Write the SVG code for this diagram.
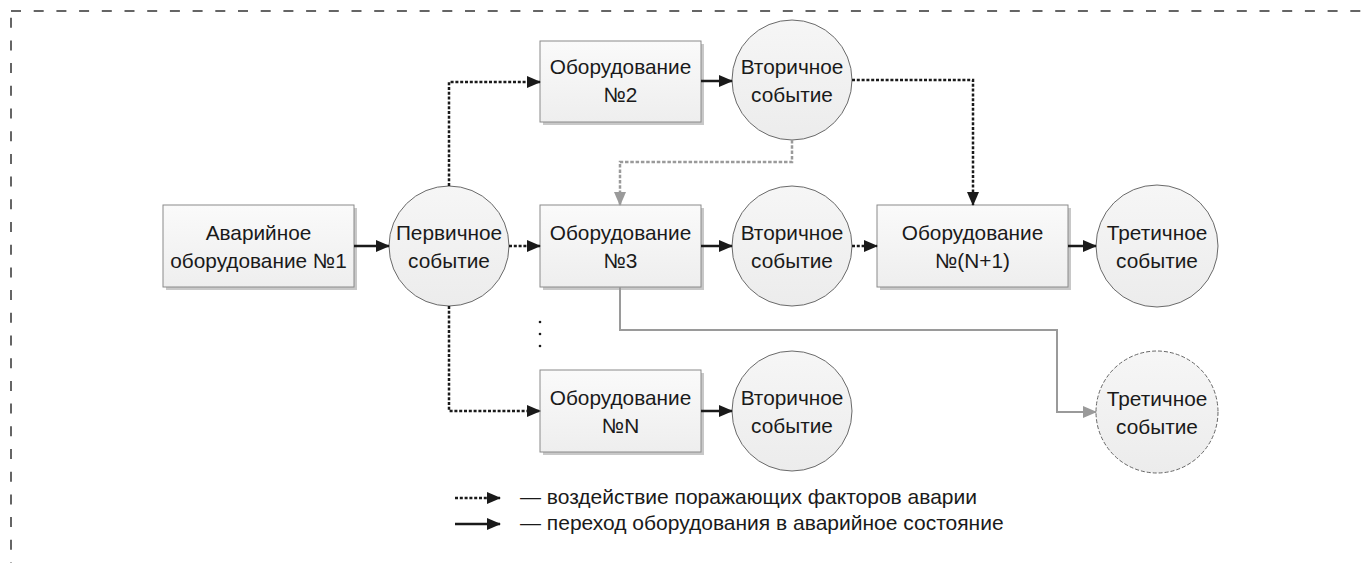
<svg xmlns="http://www.w3.org/2000/svg" width="1363" height="563" viewBox="0 0 1363 563">
<style>
.frame{fill:none;stroke:#333;stroke-width:1.5;stroke-dasharray:10 12.7}
.box{fill:url(#gBox);stroke:#8a8a8a;stroke-width:1}
.shadow{fill:#c8c8c8}
.circ{fill:url(#gCirc);stroke:#6a6a6a;stroke-width:1}
.circd{fill:url(#gCirc);stroke:#666;stroke-width:1;stroke-dasharray:4 2}
.t{font-family:"Liberation Sans",Arial,sans-serif;font-size:20.8px;fill:#1a1a1a;text-anchor:middle}
.lt{font-family:"Liberation Sans",Arial,sans-serif;font-size:21px;fill:#1a1a1a}
.solid{fill:none;stroke:#1a1a1a;stroke-width:2.5;marker-end:url(#ab)}
.dot{fill:none;stroke:#1a1a1a;stroke-width:2.5;stroke-dasharray:3 1.8;marker-end:url(#ab)}
.gdot{fill:none;stroke:#9a9a9a;stroke-width:2.5;stroke-dasharray:3.5 1.8;marker-end:url(#ag)}
.gsolid{fill:none;stroke:#9a9a9a;stroke-width:2;marker-end:url(#ag)}
</style>
<defs>
<linearGradient id="gBox" x1="0" y1="0" x2="0" y2="1"><stop offset="0" stop-color="#fafafa"/><stop offset="1" stop-color="#eeeeee"/></linearGradient>
<linearGradient id="gCirc" x1="0" y1="0" x2="0" y2="1"><stop offset="0" stop-color="#f6f6f6"/><stop offset="1" stop-color="#ececec"/></linearGradient>
<marker id="ab" markerUnits="userSpaceOnUse" markerWidth="14" markerHeight="12" refX="13" refY="6" orient="auto"><path d="M0,0 L14,6 L0,12 Z" fill="#1a1a1a"/></marker>
<marker id="ag" markerUnits="userSpaceOnUse" markerWidth="14" markerHeight="12" refX="13" refY="6" orient="auto"><path d="M0,0 L14,6 L0,12 Z" fill="#9a9a9a"/></marker>
</defs>
<rect class="frame" x="11" y="11" width="1420" height="620"/>

<g id="box1"><rect class="shadow" x="166" y="208" width="191" height="82"/><rect class="box" x="163" y="205" width="191" height="82"/><text class="t" x="258.5" y="240">Аварийное</text><text class="t" x="258.5" y="268">оборудование №1</text></g>
<g id="event1"><circle class="circ" cx="449" cy="246" r="60"/><text class="t" x="449" y="240">Первичное</text><text class="t" x="449" y="268">событие</text></g>
<g id="box2"><rect class="shadow" x="543" y="44" width="161" height="81"/><rect class="box" x="540" y="41" width="161" height="81"/><text class="t" x="620.5" y="74">Оборудование</text><text class="t" x="620.5" y="102">№2</text></g>
<g id="event2a"><circle class="circ" cx="792" cy="80" r="60"/><text class="t" x="792" y="74">Вторичное</text><text class="t" x="792" y="102">событие</text></g>
<g id="box3"><rect class="shadow" x="543" y="208" width="161" height="82"/><rect class="box" x="540" y="205" width="161" height="82"/><text class="t" x="620.5" y="240">Оборудование</text><text class="t" x="620.5" y="268">№3</text></g>
<g id="event2b"><circle class="circ" cx="792" cy="246" r="60"/><text class="t" x="792" y="240">Вторичное</text><text class="t" x="792" y="268">событие</text></g>
<g id="boxN1"><rect class="shadow" x="880" y="208" width="191" height="82"/><rect class="box" x="877" y="205" width="191" height="82"/><text class="t" x="972.5" y="240">Оборудование</text><text class="t" x="972.5" y="268">№(N+1)</text></g>
<g id="event3"><circle class="circ" cx="1157" cy="246" r="61"/><text class="t" x="1157" y="240">Третичное</text><text class="t" x="1157" y="268">событие</text></g>
<g id="boxN"><rect class="shadow" x="543" y="373" width="161" height="82"/><rect class="box" x="540" y="370" width="161" height="82"/><text class="t" x="620.5" y="405">Оборудование</text><text class="t" x="620.5" y="433">№N</text></g>
<g id="event2c"><circle class="circ" cx="792" cy="411" r="60"/><text class="t" x="792" y="405">Вторичное</text><text class="t" x="792" y="433">событие</text></g>
<g id="event3b"><circle class="circd" cx="1157" cy="412" r="61"/><text class="t" x="1157" y="406">Третичное</text><text class="t" x="1157" y="434">событие</text></g>
<g id="dots" fill="#1a1a1a"><circle cx="540" cy="322" r="1.3"/><circle cx="540" cy="334" r="1.3"/><circle cx="540" cy="346" r="1.3"/></g>

<g id="connectors">
<path class="solid" d="M354,246 H389"/>
<path class="dot" d="M449,186 V82 H540"/>
<path class="dot" d="M509,246 H540"/>
<path class="dot" d="M449,306 V411 H540"/>
<path class="solid" d="M701,81 H732"/>
<path class="dot" d="M852,80 H973 V205"/>
<path class="gdot" d="M792,140 V162 H620 V205"/>
<path class="solid" d="M701,246 H732"/>
<path class="dot" d="M852,246 H877"/>
<path class="solid" d="M1068,246 H1096"/>
<path class="solid" d="M701,411 H732"/>
<path class="gsolid" d="M620,287 V330 H1057 V412 H1096"/>
</g>

<g id="legend">
<path class="dot" d="M455,498 H500"/>
<text class="lt" x="520" y="504">— воздействие поражающих факторов аварии</text>
<path class="solid" d="M455,524 H500"/>
<text class="lt" x="520" y="530">— переход оборудования в аварийное состояние</text>
</g>
</svg>
